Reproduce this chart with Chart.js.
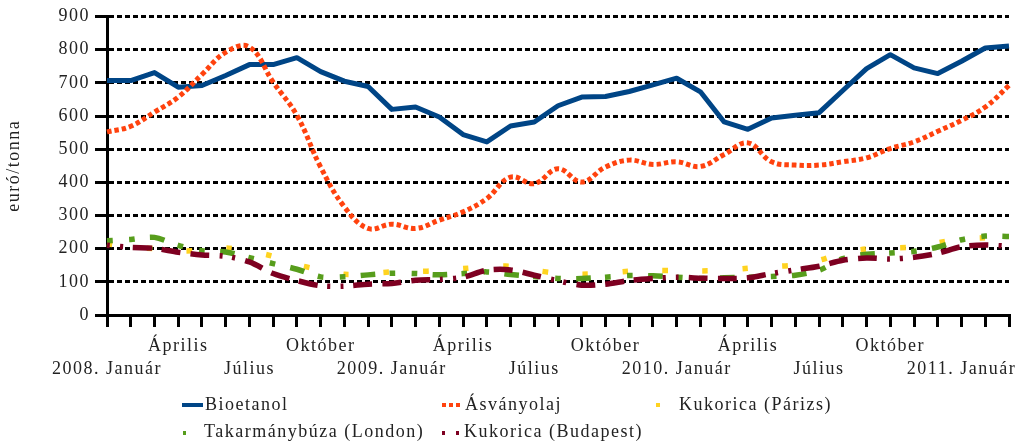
<!DOCTYPE html>
<html>
<head>
<meta charset="utf-8">
<script src="https://cdn.jsdelivr.net/npm/chart.js@4.4.1/dist/chart.umd.min.js"></script>
<style>
  html, body { margin: 0; padding: 0; background: #fff; }
  #wrap { position: relative; width: 1021px; height: 444px; }
  canvas { position: absolute; left: 0; top: 0; }
  .lg { position: absolute; font-family: "Liberation Serif", serif; font-size: 18px; line-height: 18px; letter-spacing: 1.5px; color: #222; white-space: nowrap; }
  .sw { position: absolute; }
</style>
</head>
<body>
<div id="wrap">
  <canvas id="c" width="1021" height="444"></canvas>
  <div id="legend"></div>
</div>
<script>
// Categories (months, 2008. Január – 2011. Március)
const categories = [
  "2008. Január","Február","Március","Április","Május","Június","Július","Augusztus","Szeptember","Október","November","December",
  "2009. Január","Február","Március","Április","Május","Június","Július","Augusztus","Szeptember","Október","November","December",
  "2010. Január","Február","Március","Április","Május","Június","Július","Augusztus","Szeptember","Október","November","December",
  "2011. Január","Február","Március"
];

// Series values (euró/tonna)
const bioetanol = [707,707,731,687,692,722,755,755,776,734,705,689,620,627,597,544,522,570,582,631,657,659,674,694,714,673,582,560,594,602,610,677,743,785,745,728,765,805,811];
const asvanyolaj = [552,569,612,657,725,792,808,702,602,446,326,261,274,261,286,311,351,416,396,441,401,446,467,454,462,448,484,519,462,452,452,462,474,502,522,554,587,627,692];
const kukoricaParizs = [215,205,200,193,195,202,192,177,152,136,123,125,130,131,134,140,145,147,135,126,123,126,132,134,134,133,135,141,146,151,165,187,199,202,205,218,230,233,236];
const takarmanybuzaLondon = [224,228,234,210,194,190,173,155,138,115,115,121,126,125,121,125,130,122,116,110,110,114,119,118,114,110,112,114,116,120,135,170,183,187,192,205,227,238,237];
const kukoricaBudapest = [210,204,201,189,181,177,160,125,104,88,87,93,95,105,107,114,135,136,120,103,90,93,104,110,114,111,110,112,125,136,147,165,172,169,174,186,206,211,207];

// Axis tick values
const yTicks = [0,100,200,300,400,500,600,700,800,900];

const seriesNames = ["Bioetanol","Ásványolaj","Kukorica (Párizs)","Takarmánybúza (London)","Kukorica (Budapest)"];
const colors = ["#004586","#ff420e","#ffd320","#579d1c","#7e0021"];

const FONT = "Liberation Serif";
const TEXT = "#222";

const spacingPlugin = {
  id: 'spacing',
  beforeDraw(chart) { chart.ctx.letterSpacing = '1.5px'; }
};

new Chart(document.getElementById('c'), {
  type: 'line',
  data: {
    labels: categories,
    datasets: [
      { label: seriesNames[0], data: bioetanol, borderColor: colors[0], borderWidth: 5, tension: 0, order: 4 },
      { label: seriesNames[1], data: asvanyolaj, borderColor: colors[1], borderWidth: 5, borderDash: [4.5,3], tension: 0.4, order: 3 },
      { label: seriesNames[2], data: kukoricaParizs, borderColor: colors[2], borderWidth: 5.5, borderDash: [5.5,34.5], tension: 0.3, order: 2 },
      { label: seriesNames[3], data: takarmanybuzaLondon, borderColor: colors[3], borderWidth: 5.5, borderDash: [6,16,6,15,15,14], tension: 0.3, order: 1 },
      { label: seriesNames[4], data: kukoricaBudapest, borderColor: colors[4], borderWidth: 5.5, borderDash: [3,10,3,10,19,10,19,10,19,10], tension: 0.3, order: 0 }
    ]
  },
  options: {
    responsive: false,
    animation: false,
    devicePixelRatio: 1,
    layout: { padding: { top: 16, right: 12, bottom: 60, left: 0 } },
    elements: { point: { radius: 0, hoverRadius: 0 }, line: { borderCapStyle: 'butt', borderJoinStyle: 'round', fill: false } },
    plugins: { legend: { display: false }, tooltip: { enabled: false } },
    scales: {
      x: {
        type: 'category',
        offset: false,
        grid: { drawOnChartArea: false, drawTicks: true, tickLength: 12, tickWidth: 3, tickColor: '#000', color: '#000', lineWidth: 3, offset: false },
        border: { display: true, color: '#000', width: 3 },
        ticks: {
          autoSkip: false, maxRotation: 0, minRotation: 0, padding: 8,
          color: TEXT, font: { family: FONT, size: 18, lineHeight: 1.28 },
          callback: function(v, i) {
            if (i % 3 !== 0) return '';
            return ((i / 3) % 2 === 0) ? ['', categories[i]] : [categories[i]];
          }
        },
        afterFit: function(scale) { scale.height = 69; }
      },
      y: {
        min: 0, max: 900,
        afterBuildTicks: function(scale) { scale.ticks = yTicks.map(v => ({ value: v })); },
        grid: { color: '#000', lineWidth: 3, drawTicks: true, tickLength: 12, tickWidth: 3, tickColor: '#000', tickBorderDash: [] },
        border: { display: true, color: '#000', width: 3, dash: [5,3] },
        ticks: { padding: 5, color: TEXT, font: { family: FONT, size: 18, lineHeight: 1.28 } },
        title: { display: true, text: 'euró/tonna', color: TEXT, font: { family: FONT, size: 18, lineHeight: 1.28 }, padding: { top: 3, bottom: 0 } },
        afterFit: function(scale) { scale.width = 107; }
      }
    }
  },
  plugins: [spacingPlugin]
});

// HTML legend
const legend = document.getElementById('legend');
function addText(txt, x, top) {
  const d = document.createElement('div');
  d.className = 'lg'; d.textContent = txt;
  d.style.left = x + 'px'; d.style.top = top + 'px';
  legend.appendChild(d);
}
function addBox(x, y, w, h, color) {
  const d = document.createElement('div');
  d.className = 'sw';
  d.style.left = x + 'px'; d.style.top = y + 'px';
  d.style.width = w + 'px'; d.style.height = h + 'px';
  d.style.background = color;
  legend.appendChild(d);
}
// row 1
addBox(182, 403, 21, 4, colors[0]);
addText(seriesNames[0], 205, 395);
addBox(442, 403, 4, 4, colors[1]); addBox(449, 403, 4, 4, colors[1]); addBox(456, 403, 4, 4, colors[1]);
addText(seriesNames[1], 465, 395);
addBox(656, 403, 4, 4, colors[2]);
addText(seriesNames[2], 679, 395);
// row 2
addBox(183, 431, 3, 4, colors[3]);
addText(seriesNames[3], 204, 422);
addBox(442, 431, 3, 4, colors[4]); addBox(456, 431, 3, 4, colors[4]);
addText(seriesNames[4], 464, 422);
</script>
</body>
</html>
